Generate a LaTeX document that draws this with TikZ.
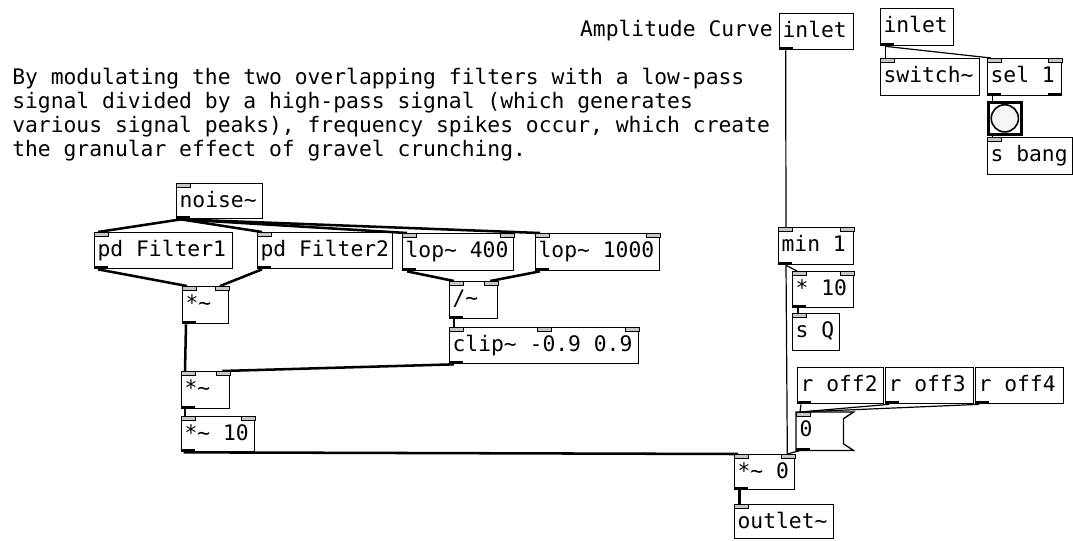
\documentclass[tikz,border=0pt]{standalone}
\usepackage{fontspec}
\newfontfamily\pdfont{DejaVu Sans Mono}
\tikzset{
  pdbox/.style={draw, line width=1pt, inner sep=0pt, fill=white, anchor=north west},
  pdtext/.style={font=\pdfont\fontsize{16}{18}\selectfont, inner sep=0pt, anchor=base west},
  sig/.style={line width=1.9pt},
  ctl/.style={line width=0.9pt},
  nubin/.style={fill=gray!45, draw=black, line width=0.6pt},
  nubout/.style={fill=black},
}
\newcommand\pdobj[6]{%
  \node[pdbox, minimum width={(#4-#2)*0.75pt}, minimum height={(#5-#3)*0.75pt}] (#1) at (#2,#3) {};
  \node[pdtext] at ([xshift=2.5pt, yshift=-18pt]#1.north west) {#6};
}
\newcommand\pdinL[1]{\draw[nubin] (#1.north west) rectangle ++(14,4);}
\newcommand\pdinR[1]{\draw[nubin] (#1.north east) rectangle ++(-14,4);}
\newcommand\pdinM[1]{\draw[nubin] ([xshift=-5.25pt]#1.north) rectangle ++(14,4);}
\newcommand\pdoutL[1]{\fill[nubout] (#1.south west) rectangle ++(14,-3);}
\newcommand\pdoutR[1]{\fill[nubout] (#1.south east) rectangle ++(-14,-3);}
\begin{document}
\begin{tikzpicture}[x=0.75pt, y=-0.75pt]
\useasboundingbox[fill=white] (0,0) rectangle (1073,540);

% comment
\node[pdtext, anchor=north west, align=left] (comment) at (12,68)
  {By modulating the two overlapping filters with a low-pass\\
   signal divided by a high-pass signal (which generates\\
   various signal peaks), frequency spikes occur, which create\\
   the granular effect of gravel crunching.};
\node[pdtext, anchor=base east] (amptxt) at (773,36) {Amplitude Curve};

% objects
\pdobj{ampin}{779}{13}{853}{49}{inlet}
\pdobj{rin}{880}{8}{953}{45}{inlet}
\pdobj{sw}{880}{58}{979}{95}{switch\textasciitilde}
\pdobj{sel}{987}{58}{1061}{95}{sel 1}
\node[pdbox, line width=2pt, minimum width={33*0.75pt}, minimum height={32*0.75pt}] (bng) at (987,101) {};
\draw[fill=gray!8, line width=1.2pt] (bng.center) circle[radius=10.2pt];
\pdobj{sbang}{987}{137}{1072}{174}{s bang}
\pdobj{noise}{176}{183}{262}{218}{noise\textasciitilde}
\pdobj{fA}{94}{232}{232}{268}{pd Filter1}
\pdobj{fB}{257}{232}{392}{268}{pd Filter2}
\pdobj{lopA}{402}{233}{513}{270}{lop\textasciitilde{} 400}
\pdobj{lopB}{535}{233}{659}{270}{lop\textasciitilde{} 1000}
\pdobj{div}{449}{281}{497}{318}{/\textasciitilde}
\pdobj{mulA}{182}{286}{228}{323}{*\textasciitilde}
\pdobj{clip}{449}{327}{638}{363}{clip\textasciitilde{} -0.9 0.9}
\pdobj{mulB}{181}{371}{229}{408}{*\textasciitilde}
\pdobj{mulC}{181}{416}{254}{451}{*\textasciitilde{} 10}
\pdobj{min}{778}{227}{853}{264}{min 1}
\pdobj{tim}{792}{271}{853}{307}{* 10}
\pdobj{sQ}{792}{313}{839}{350}{s Q}
\pdobj{ra}{797}{367}{883}{403}{r off2}
\pdobj{rb}{885}{367}{973}{403}{r off3}
\pdobj{rc}{975}{367}{1063}{403}{r off4}
\node[anchor=north west, inner sep=0pt, minimum width={57*0.75pt}, minimum height={38*0.75pt}] (msg) at (796,412) {};
\draw[line width=1pt, fill=white] (msg.north west) -- (msg.north east) -- ([xshift=-7.5pt, yshift=-5pt]msg.north east)
  -- ([xshift=-7.5pt, yshift=5pt]msg.south east) -- (msg.south east) -- (msg.south west) -- cycle;
\node[pdtext] at ([xshift=2.5pt, yshift=-18pt]msg.north west) {0};
\pdobj{mulD}{734}{454}{794}{489}{*\textasciitilde{} 0}
\pdobj{outl}{734}{504}{833}{538}{outlet\textasciitilde}

% signal connections
\draw[sig] ([xshift=3.75pt]noise.south west) -- ([xshift=3pt]fA.north west);
\draw[sig] ([xshift=3.75pt]noise.south west) -- ([xshift=3.75pt]fB.north west);
\draw[sig] ([xshift=3.75pt]noise.south west) -- ([xshift=3.75pt]lopA.north west);
\draw[sig] ([xshift=3.75pt]noise.south west) -- ([xshift=3.75pt]lopB.north west);
\draw[sig] ([xshift=3pt]fA.south west) -- ([xshift=3.75pt]mulA.north west);
\draw[sig] ([xshift=3.75pt]fB.south west) -- ([xshift=-7pt]mulA.north east);
\draw[sig] ([xshift=3.75pt]lopA.south west) -- ([xshift=3.75pt]div.north west);
\draw[sig] ([xshift=3.75pt]lopB.south west) -- ([xshift=-6pt]div.north east);
\draw[sig] ([xshift=3.75pt]div.south west) -- ([xshift=3.75pt]clip.north west);
\draw[sig] ([xshift=3pt]mulA.south west) -- ([xshift=3pt]mulB.north west);
\draw[sig] ([xshift=3.75pt]clip.south west) -- ([xshift=-6pt]mulB.north east);
\draw[sig] ([xshift=3pt]mulB.south west) -- ([xshift=3pt]mulC.north west);
\draw[sig] ([xshift=2pt]mulC.south west) -- ([xshift=3pt]mulD.north west);
\draw[sig] ([xshift=4pt]mulD.south west) -- ([xshift=4pt]outl.north west);

% control connections
\draw[ctl] ([xshift=5pt]ampin.south west) -- ([xshift=6pt]min.north west);
\draw[ctl] ([xshift=6pt]min.south west) -- ([xshift=3.75pt]tim.north west);
\draw[ctl] ([xshift=6pt]min.south west) -- ([xshift=-6pt]mulD.north east);
\draw[ctl] ([xshift=4.5pt]tim.south west) -- ([xshift=4.5pt]sQ.north west);
\draw[ctl] ([xshift=3pt]ra.south west) -- ([xshift=3pt]msg.north west);
\draw[ctl] ([xshift=3pt]rb.south west) -- ([xshift=3pt]msg.north west);
\draw[ctl] ([xshift=3pt]rc.south west) -- ([xshift=3pt]msg.north west);
\draw[ctl] ([xshift=3pt]msg.south west) -- ([xshift=-6pt]mulD.north east);
\draw[ctl] ([xshift=4pt]rin.south west) -- ([xshift=4pt]sw.north west);
\draw[ctl] ([xshift=4pt]rin.south west) -- ([xshift=3pt]sel.north west);
\draw[ctl] ([xshift=4pt]sel.south west) -- ([xshift=4pt]bng.north west);
\draw[ctl] ([xshift=4pt]bng.south west) -- ([xshift=4pt]sbang.north west);

% inlets and outlets
\pdoutL{ampin}
\pdoutL{rin}
\pdinL{sw}
\pdinL{sel}\pdinR{sel}\pdoutL{sel}\pdoutR{sel}
\pdinL{sbang}
\pdinL{noise}\pdoutL{noise}
\pdinL{fA}\pdoutL{fA}
\pdinL{fB}\pdoutL{fB}
\pdinL{lopA}\pdinR{lopA}\pdoutL{lopA}
\pdinL{lopB}\pdinR{lopB}\pdoutL{lopB}
\pdinL{div}\pdinR{div}\pdoutL{div}
\pdinL{mulA}\pdinR{mulA}\pdoutL{mulA}
\pdinL{clip}\pdinM{clip}\pdinR{clip}\pdoutL{clip}
\pdinL{mulB}\pdinR{mulB}\pdoutL{mulB}
\pdinL{mulC}\pdinR{mulC}\pdoutL{mulC}
\pdinL{min}\pdinR{min}\pdoutL{min}
\pdinL{tim}\pdinR{tim}\pdoutL{tim}
\pdinL{sQ}
\pdoutL{ra}\pdoutL{rb}\pdoutL{rc}
\pdinL{msg}\pdoutL{msg}
\pdinL{mulD}\pdinR{mulD}\pdoutL{mulD}
\pdinL{outl}
\end{tikzpicture}
\end{document}
